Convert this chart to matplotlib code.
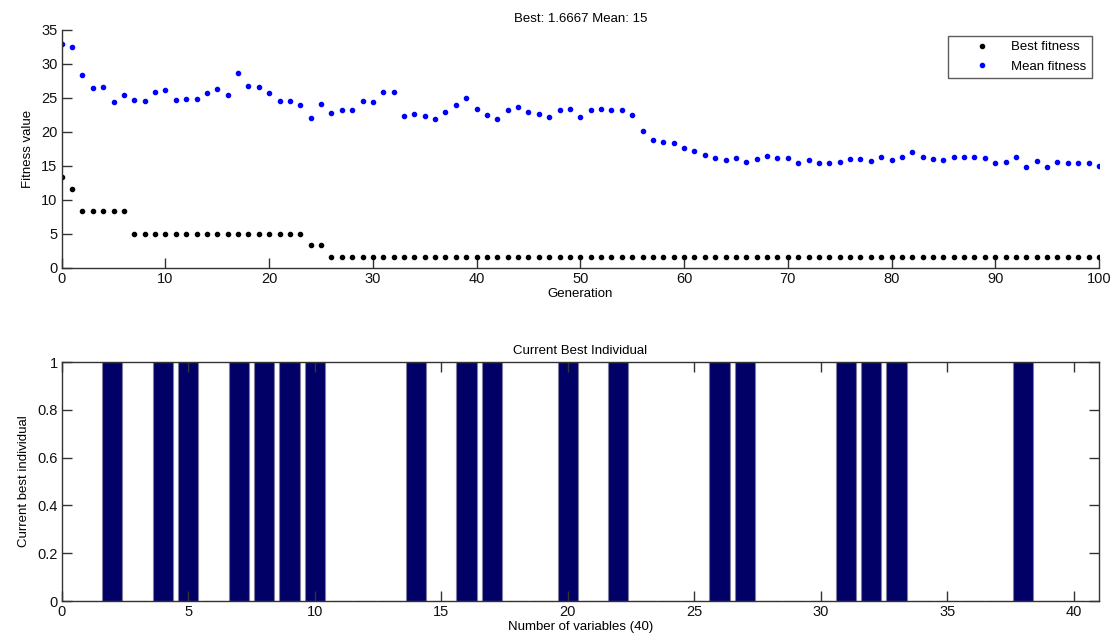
import matplotlib
matplotlib.use("Agg")
import matplotlib.pyplot as plt
import numpy as np

plt.rcParams['font.family'] = ['Liberation Sans', 'DejaVu Sans']

generations = list(range(0, 101))
best_fitness = ([13.333, 11.667] + [8.3333] * 5 + [5.0] * 17 + [3.3333] * 2
                + [1.6667] * 75)
mean_fitness = [
    33.0, 32.45, 28.4, 26.4, 26.6, 24.4, 25.5, 24.7, 24.6, 25.9,
    26.1, 24.7, 24.9, 24.9, 25.8, 26.3, 25.5, 28.6, 26.7, 26.6,
    25.8, 24.6, 24.6, 23.9, 22.1, 24.1, 22.8, 23.2, 23.2, 24.6,
    24.4, 25.9, 25.9, 22.4, 22.7, 22.4, 21.9, 23.0, 23.9, 25.0,
    23.4, 22.5, 21.9, 23.3, 23.7, 23.0, 22.7, 22.2, 23.3, 23.4,
    22.2, 23.3, 23.4, 23.3, 23.2, 22.5, 20.2, 18.8, 18.5, 18.4,
    17.7, 17.2, 16.6, 16.2, 15.9, 16.2, 15.6, 16.0, 16.5, 16.2,
    16.2, 15.4, 15.9, 15.4, 15.4, 15.6, 16.0, 16.0, 15.7, 16.3,
    15.9, 16.3, 17.0, 16.3, 16.0, 15.9, 16.3, 16.3, 16.3, 16.2,
    15.4, 15.6, 16.3, 14.9, 15.7, 14.9, 15.6, 15.4, 15.4, 15.4,
    15.0,
]

variables = list(range(1, 41))
selected = [2, 4, 5, 7, 8, 9, 10, 14, 16, 17, 20, 22, 26, 27, 31, 32, 33, 38]
individual = [1 if v in selected else 0 for v in variables]

x_ticks_top = list(range(0, 101, 10))
y_ticks_top = list(range(0, 36, 5))
x_ticks_bot = list(range(0, 41, 5))
y_ticks_bot = [0, 0.2, 0.4, 0.6, 0.8, 1]

spine_col = '#333333'
fs_tick = 10.5
fs_lab = 9.5
tick_len = 7

fig = plt.figure(figsize=(11.14, 6.4), dpi=100)

# ---- top axes
ax1 = fig.add_axes([0.0554, 0.5813, 0.9311, 0.3719])
ax1.plot(generations, best_fitness, linestyle='none', marker='o', ms=3.0,
         color='black', label='Best fitness')
ax1.plot(generations, mean_fitness, linestyle='none', marker='o', ms=3.0,
         color='#0000ff', label='Mean fitness')
ax1.set_xlim(0, 100)
ax1.set_ylim(0, 35)
ax1.set_xticks(x_ticks_top)
ax1.set_yticks(y_ticks_top)
for s in ['top', 'right']:
    ax1.spines[s].set_visible(False)
for s in ['left', 'bottom']:
    ax1.spines[s].set_color(spine_col)
    ax1.spines[s].set_linewidth(1.0)
ax1.tick_params(direction='in', length=tick_len, width=1.0, colors=spine_col,
                labelcolor='#111111', labelsize=fs_tick, pad=3)
ax1.set_xlabel('Generation', fontsize=fs_lab, labelpad=1)
ax1.set_ylabel('Fitness value', fontsize=fs_lab, labelpad=5)
ax1.set_title('Best: 1.6667 Mean: 15', fontsize=fs_lab, pad=6)
leg = ax1.legend(loc='upper right', bbox_to_anchor=(0.9933, 0.975),
                 borderaxespad=0.0, fontsize=9.5, frameon=True, fancybox=False,
                 edgecolor='#333333', handlelength=4.4, handletextpad=0.0,
                 borderpad=0.4, labelspacing=0.55, markerscale=1.0)
leg.get_frame().set_linewidth(1.0)

# ---- bottom axes
ax2 = fig.add_axes([0.0554, 0.0609, 0.9311, 0.3734])
ax2.bar(variables, individual, width=0.8, color='#000066',
        edgecolor='#8080a0', linewidth=0.8)
ax2.set_xlim(0, 41)
ax2.set_ylim(0, 1)
ax2.set_xticks(x_ticks_bot)
ax2.set_yticks(y_ticks_bot)
ax2.set_yticklabels(['0', '0.2', '0.4', '0.6', '0.8', '1'])
for s in ax2.spines.values():
    s.set_color(spine_col)
    s.set_linewidth(1.0)
ax2.tick_params(direction='in', length=tick_len, width=1.0, colors=spine_col,
                labelcolor='#111111', labelsize=fs_tick, top=True, right=True,
                pad=3)
ax2.set_xlabel('Number of variables (40)', fontsize=fs_lab, labelpad=1)
ax2.set_ylabel('Current best individual', fontsize=fs_lab, labelpad=5)
ax2.set_title('Current Best Individual', fontsize=fs_lab, pad=6)

fig.savefig('out.png', dpi=100)
